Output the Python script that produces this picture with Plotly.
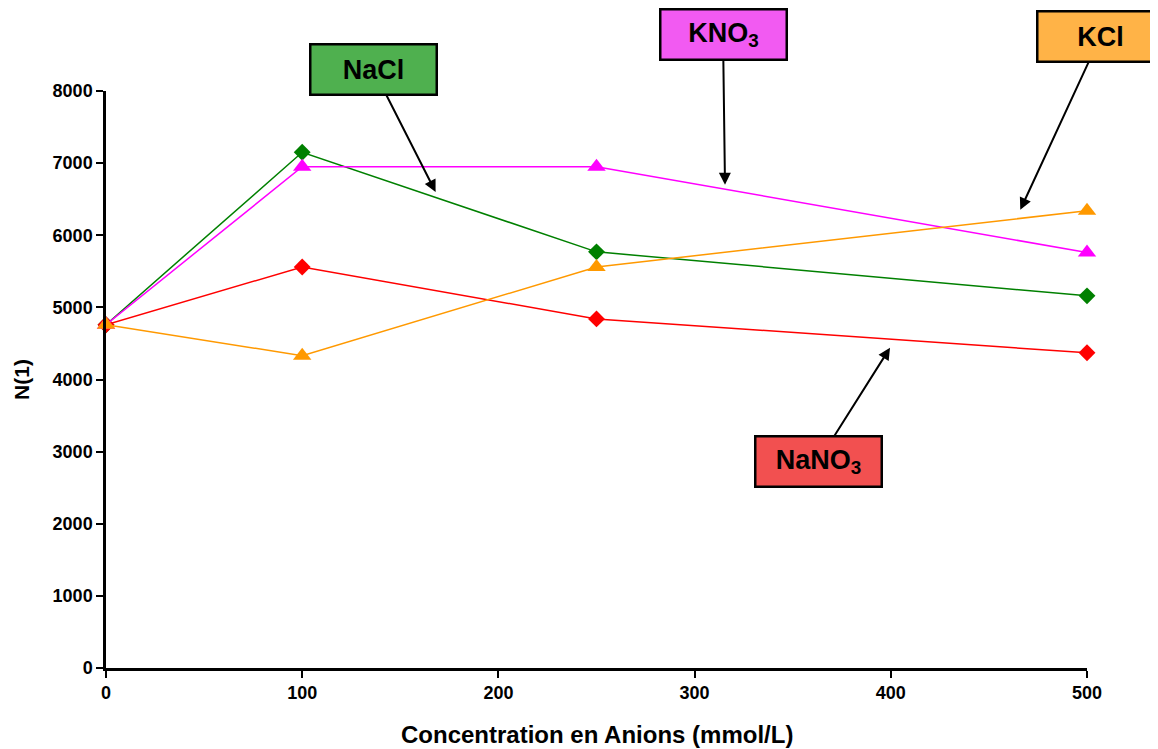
import plotly.graph_objects as go

conc = [0, 100, 250, 500]
nacl = [4760, 7150, 5770, 5160]
nano3 = [4760, 5560, 4840, 4370]
kno3 = [4760, 6950, 6950, 5760]
kcl = [4760, 4330, 5560, 6340]

FONT = "Liberation Sans, Arial, sans-serif"

fig = go.Figure()
series = [
    ("NaCl", nacl, "#008000", "diamond", 13),
    ("NaNO3", nano3, "#FF0000", "diamond", 13),
    ("KNO3", kno3, "#FF00FF", "triangle-up", 16),
    ("KCl", kcl, "#FF9900", "triangle-up", 16),
]
for name, ys, col, sym, sz in series:
    fig.add_trace(go.Scatter(x=conc, y=ys, name=name, mode="lines+markers",
                             line=dict(color=col, width=1.5),
                             marker=dict(color=col, symbol=sym, size=sz),
                             showlegend=False, cliponaxis=False))

def label(text, x, y, ax, ay, bg):
    fig.add_annotation(x=x, y=y, xref="x", yref="y", ax=ax, ay=ay,
                       text="<b>" + text + "</b>", showarrow=True,
                       arrowhead=2, arrowsize=1.2, arrowwidth=2, arrowcolor="black",
                       font=dict(family=FONT, size=27, color="black"),
                       bgcolor=bg, bordercolor="black", borderwidth=2.5,
                       borderpad=1, width=122, height=46)

label("NaCl", 168, 6600, -62, -122, "#4fb04f")
label("KNO<sub>3</sub>", 315.5, 6700, -2, -150, "#f25af2")
label("KCl", 466, 6352, 80, -173, "#ffb347")
label("NaNO<sub>3</sub>", 399.6, 4440, -72, 114, "#f25050")

# x-axis title
fig.add_annotation(x=0.5, y=-0.116, xref="paper", yref="paper", showarrow=False,
                   xanchor="center", yanchor="middle",
                   text="<b>Concentration en Anions (mmol/L)</b>",
                   font=dict(family=FONT, size=24, color="black"))

axis_common = dict(showline=True, linecolor="black", linewidth=2.5, ticks="outside",
                   ticklen=7, tickwidth=2, tickcolor="black", showgrid=False,
                   zeroline=False, tickfont=dict(family=FONT, size=18, color="black"))

fig.update_layout(
    width=1150, height=741,
    margin=dict(l=98, r=71, t=83, b=81),
    plot_bgcolor="white", paper_bgcolor="white",
    xaxis=dict(range=[0, 500], tickvals=[0, 100, 200, 300, 400, 500],
               ticktext=["<b>%d</b>" % v for v in [0, 100, 200, 300, 400, 500]],
               automargin=False, **axis_common),
    yaxis=dict(range=[0, 8000], tickvals=[0, 1000, 2000, 3000, 4000, 5000, 6000, 7000, 8000],
               ticktext=["<b>%d</b>" % v for v in [0, 1000, 2000, 3000, 4000, 5000, 6000, 7000, 8000]],
               title=dict(text="<b>N(1)</b>", font=dict(family=FONT, size=21, color="black"), standoff=18),
               **axis_common),
)

fig.write_html("out.html")
